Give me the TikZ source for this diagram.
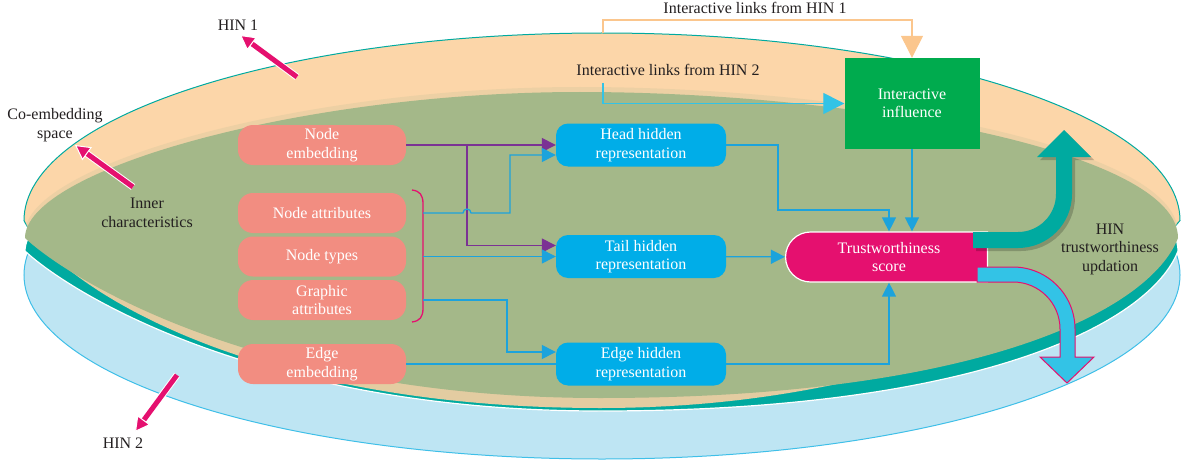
\documentclass[tikz,border=0pt]{standalone}
\usepackage{fontspec}
\setmainfont{Liberation Serif}
\usetikzlibrary{arrows.meta,shapes.misc,positioning}

\definecolor{discblue}{HTML}{BEE5F3}
\definecolor{discline}{HTML}{3FBFE8}
\definecolor{rimteal}{HTML}{00AAA0}
\definecolor{peach}{HTML}{FCD6A9}
\definecolor{sand}{HTML}{E3CCA1}
\definecolor{olive}{HTML}{A4B889}
\definecolor{salmon}{HTML}{F28D81}
\definecolor{repblue}{HTML}{00ADE8}
\definecolor{linkblue}{HTML}{1CA3DC}
\definecolor{purp}{HTML}{7B3294}
\definecolor{inflgreen}{HTML}{00AB4E}
\definecolor{magent}{HTML}{E5106F}
\definecolor{updcyan}{HTML}{33C3E6}
\definecolor{linkpeach}{HTML}{FBC68D}
\definecolor{ink}{HTML}{231F20}

\newcommand{\labelfont}{\fontsize{16pt}{18.5pt}\selectfont}
% inner characteristics area
\def\innerpath{(25,238) .. controls (70,280) and (260,398) .. (600,398) .. controls (980,398) and (1150,310) .. (1178,238) .. controls (1178,150) and (850,92) .. (580,92) .. controls (300,92) and (25,170) .. (25,238) -- cycle}
% top face of the co-embedding space
\def\hinonepath{(24,220.5) arc[start angle=180,end angle=360,x radius=578,y radius=187.5] .. controls (1140,270) and (940,408) .. (600,408) .. controls (230,408) and (50,275) .. (24,220.5) -- cycle}

\begin{document}
\begin{tikzpicture}[x=1pt,y=-1pt]
        \tikzstyle{feat node}=[rectangle,rounded corners=15pt,fill=salmon,text=white,minimum width=168pt,minimum height=40pt,inner sep=0pt,align=center,font=\labelfont,node distance=43.5pt]
        \tikzstyle{rep node}=[rectangle,rounded corners=12pt,fill=repblue,text=white,minimum width=170pt,minimum height=43pt,inner sep=0pt,align=center,font=\labelfont,node distance=319pt]
        \tikzstyle{score node}=[rounded rectangle,rounded rectangle right arc=none,fill=magent,draw=white,line width=1.2pt,text=white,minimum width=202pt,minimum height=50pt,inner sep=0pt,align=center,font=\labelfont]
        \tikzstyle{infl node}=[rectangle,fill=inflgreen,text=white,minimum width=135pt,minimum height=91pt,inner sep=0pt,align=center,font=\labelfont]
        \tikzstyle{note}=[text=ink,inner sep=0pt,align=center,font=\labelfont]
        \tikzstyle{link}=[linkblue,line width=1.3pt]
        \tikzstyle{flow}=[link,-{Triangle[length=14pt,width=14pt]}]
        \tikzstyle{purp line}=[purp,line width=1.4pt,-{Triangle[length=14pt,width=14pt]}]
        \tikzstyle{pointer}=[magent,line width=5pt,-{Triangle[length=15pt,width=16pt,fill=magent,color=white,line width=1pt]},preaction={draw=white,line width=7pt,arrows=-,shorten >=12pt}]

        \useasboundingbox (0,0) rectangle (1184,460);

        % the two networks and the shared space
        \draw[fill=discblue,draw=discline,line width=1pt] (602,275) ellipse[x radius=578,y radius=184];
        \draw[fill=rimteal,draw=white,line width=1.2pt,yshift=-13pt] \innerpath;
        \draw[fill=peach,draw=rimteal,line width=1pt] \hinonepath;
        \begin{scope}
            \clip \hinonepath;
            \fill[sand,yshift=-12pt] \innerpath;
            \fill[sand,opacity=.6,yshift=5pt] \innerpath;
        \end{scope}
        \fill[olive] \innerpath;

        \node[note] (hin1) at (238,25) {HIN 1};
        \node[note] (coemb) at (55,125) {Co-embedding\\space};
        \node[note] (inner) at (147,213) {Inner\\characteristics};
        \node[note] (hin2) at (123,443) {HIN 2};
        \node[note] (lnk1) at (755,8) {Interactive links from HIN 1};
        \node[note] (lnk2) at (668,70) {Interactive links from HIN 2};
        \node[note] (upd) at (1110,249) {HIN\\trustworthiness\\updation};

        \node[feat node] (nemb) at (322,145) {Node\\embedding};
        \node[feat node] (nattr) at (322,213) {Node attributes};
        \node[feat node] (ntype) [below of=nattr] {Node types};
        \node[feat node] (gattr) [below of=ntype] {Graphic\\attributes};
        \node[feat node] (eemb) at (322,364) {Edge\\embedding};

        \node[rep node] (head) [right of=nemb] {Head hidden\\representation};
        \node[rep node] (tail) [right of=ntype] {Tail hidden\\representation};
        \node[rep node] (erep) [right of=eemb] {Edge hidden\\representation};

        \node[infl node] (infl) at (912,103.5) {Interactive\\influence};
        \node[score node] (trust) at (889,257) {Trustworthiness\\score};

        % bracket round the attribute boxes
        \draw[magent,line width=1.3pt] (412,190) .. controls (420,191) and (423,195) .. (423,204) -- (423,308) .. controls (423,317) and (420,321) .. (412,322);
        \coordinate (br) at (423,256);
        \coordinate (split) at (467,145);

        \draw[purp line] (nemb) -- (head);
        \draw[purp line] (split) |- ([yshift=11pt]tail.west);
        \draw[flow] (nattr -| br) -- (463,213) arc[start angle=180,end angle=360,radius=4] -- (510,213) |- ([yshift=-10pt]head.west);
        \draw[flow] (ntype -| br) -- (ntype -| tail.west);
        \draw[flow] (gattr -| br) -- (507,300) |- ([yshift=12pt]erep.west);
        \draw[link] (eemb) -- (erep);

        \draw[flow] (head.east) -| (778,210) -| (trust.north);
        \draw[flow] (tail) -- (trust);
        \draw[flow] (erep.east) -| (trust.south);
        \draw[flow] (infl.south) -- (infl.south |- trust.north);

        \coordinate (l1) at (603,33);
        \coordinate (l1bend) at (603,20);
        \coordinate (l2) at (603,83);
        \draw[linkpeach,line width=1.3pt,-{Triangle[length=22pt,width=22pt]}] (l1) -- (l1bend) -| (infl.north);
        \draw[updcyan,line width=1.3pt,-{Triangle[length=21pt,width=21pt]}] (l2) |- (infl.west);

        % updation arrows
        \fill[black,opacity=.2,shift={(3,3)}] (973,232) -- (1018,232) arc[start angle=90,end angle=0,radius=38] -- (1056,157) -- (1037,157) -- (1064,130) -- (1091,157) -- (1072,157) -- (1072,194) arc[start angle=0,end angle=90,radius=54] -- (973,248) -- cycle;
        \fill[rimteal] (973,232) -- (1018,232) arc[start angle=90,end angle=0,radius=38] -- (1056,157) -- (1037,157) -- (1064,130) -- (1091,157) -- (1072,157) -- (1072,194) arc[start angle=0,end angle=90,radius=54] -- (973,248) -- cycle;
        \filldraw[fill=updcyan,draw=magent,line width=1pt] (977,267) -- (1013,267) arc[start angle=-90,end angle=0,radius=62] -- (1075,357) -- (1094,357) -- (1067,383) -- (1040,357) -- (1060,357) -- (1060,329) arc[start angle=0,end angle=-90,radius=47] -- (977,282) -- cycle;

        % pointers to the labels
        \coordinate (p1a) at (297,77);
        \coordinate (p1b) at (240,35);
        \coordinate (p2a) at (133,187);
        \coordinate (p2b) at (75,145);
        \coordinate (p3a) at (177,375);
        \coordinate (p3b) at (135,432);
        \draw[pointer] (p1a) -- (p1b);
        \draw[pointer] (p2a) -- (p2b);
        \draw[pointer] (p3a) -- (p3b);
    \end{tikzpicture}
\end{document}
